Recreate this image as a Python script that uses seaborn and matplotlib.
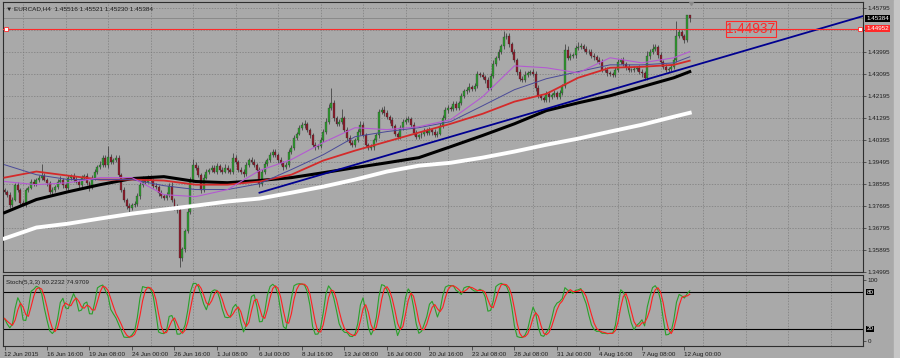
import numpy as np
import pandas as pd
import matplotlib
matplotlib.use("Agg")
import matplotlib.pyplot as plt
import seaborn as sns

# EURCAD H4 closes, 12 Jun 2015 00:00 -> 12 Aug 2015 04:00
closes = [
    1.3827, 1.3815, 1.3774, 1.3795, 1.3856, 1.3836, 1.3782, 1.3774, 1.3836, 1.3844,
    1.3869, 1.3860, 1.3877, 1.3885, 1.3893, 1.3877, 1.3864, 1.3827, 1.3836, 1.3848,
    1.3869, 1.3877, 1.3856, 1.3844, 1.3885, 1.3893, 1.3877, 1.3869, 1.3856, 1.3885,
    1.3893, 1.3864, 1.3844, 1.3885, 1.3910, 1.3930, 1.3938, 1.3967, 1.3938, 1.3971,
    1.3950, 1.3959, 1.3967, 1.3897, 1.3836, 1.3795, 1.3770, 1.3762, 1.3774, 1.3778,
    1.3811, 1.3856, 1.3877, 1.3869, 1.3885, 1.3877, 1.3852, 1.3848, 1.3823, 1.3811,
    1.3803, 1.3815, 1.3852, 1.3795, 1.3766, 1.3754, 1.3557, 1.3590, 1.3664, 1.3745,
    1.3877, 1.3938, 1.3926, 1.3897, 1.3836, 1.3885, 1.3910, 1.3918, 1.3926, 1.3910,
    1.3934, 1.3918, 1.3910, 1.3926, 1.3918, 1.3910, 1.3967, 1.3950, 1.3918, 1.3910,
    1.3901, 1.3938, 1.3959, 1.3950, 1.3938, 1.3918, 1.3860, 1.3910, 1.3942, 1.3959,
    1.3979, 1.3992, 1.3979, 1.3959, 1.3946, 1.3930, 1.3938, 1.3992, 1.4008, 1.4049,
    1.4066, 1.4090, 1.4102, 1.4106, 1.4082, 1.4058, 1.4020, 1.4012, 1.4016, 1.4041,
    1.4074, 1.4115, 1.4172, 1.4192, 1.4131, 1.4106, 1.4115, 1.4131, 1.4082, 1.4049,
    1.4029, 1.4020, 1.4041, 1.4074, 1.4102, 1.4062, 1.4020, 1.4008, 1.4012, 1.4041,
    1.4058, 1.4156, 1.4164, 1.4151, 1.4135, 1.4123, 1.4098, 1.4066, 1.4053, 1.4090,
    1.4115, 1.4123, 1.4127, 1.4102, 1.4070, 1.4053, 1.4058, 1.4066, 1.4078, 1.4070,
    1.4082, 1.4074, 1.4062, 1.4066, 1.4098, 1.4131, 1.4164, 1.4172, 1.4168, 1.4188,
    1.4172, 1.4192, 1.4221, 1.4242, 1.4246, 1.4258, 1.4250, 1.4262, 1.4311, 1.4307,
    1.4299, 1.4287, 1.4254, 1.4303, 1.4353, 1.4377, 1.4402, 1.4426, 1.4463, 1.4467,
    1.4434, 1.4402, 1.4369, 1.4320, 1.4291, 1.4287, 1.4307, 1.4315, 1.4320, 1.4311,
    1.4254, 1.4221, 1.4213, 1.4205, 1.4229, 1.4217, 1.4225, 1.4233, 1.4217, 1.4233,
    1.4262, 1.4410, 1.4377, 1.4385, 1.4389, 1.4418, 1.4422, 1.4426, 1.4414, 1.4402,
    1.4402, 1.4385, 1.4381, 1.4369, 1.4361, 1.4328, 1.4328, 1.4315, 1.4311, 1.4307,
    1.4328, 1.4361, 1.4369, 1.4353, 1.4340, 1.4328, 1.4328, 1.4332, 1.4336, 1.4320,
    1.4315, 1.4295, 1.4385, 1.4402, 1.4414, 1.4422, 1.4389, 1.4361, 1.4340, 1.4328,
    1.4332, 1.4340, 1.4369, 1.4467, 1.4483, 1.4467, 1.4451, 1.45516, 1.45384,
]
first_open = 1.3836

# wick lengths beyond the body, in pips
wick_up = [
    8, 6, 10, 12, 7, 9, 6, 11, 8, 5,
    9, 12, 7, 10, 48, 9, 6, 8, 11, 7,
    10, 14, 6, 8, 12, 7, 9, 13, 5, 10,
    8, 9, 6, 12, 10, 8, 14, 9, 11, 45,
    10, 8, 12, 9, 6, 11, 7, 10, 8, 9,
    12, 10, 15, 8, 11, 9, 7, 12, 6, 10,
    8, 11, 9, 13, 7, 10, 6, 12, 8, 15,
    10, 22, 12, 9, 8, 14, 10, 7, 11, 9,
    13, 8, 10, 15, 9, 7, 18, 11, 8, 10,
    9, 12, 8, 10, 13, 7, 9, 11, 10, 8,
    12, 10, 9, 7, 11, 8, 10, 12, 9, 11,
    8, 10, 13, 14, 9, 7, 10, 12, 8, 9,
    11, 13, 15, 60, 10, 9, 12, 35, 8, 10,
    9, 11, 8, 12, 14, 10, 7, 9, 11, 8,
    10, 12, 9, 15, 10, 8, 11, 9, 7, 12,
    10, 9, 13, 8, 11, 10, 7, 12, 9, 10,
    11, 8, 9, 12, 10, 13, 9, 11, 8, 10,
    12, 9, 11, 8, 10, 14, 9, 12, 10, 8,
    11, 9, 12, 10, 13, 8, 11, 9, 24, 12,
    10, 8, 11, 9, 12, 10, 14, 9, 8, 11,
    10, 12, 9, 8, 11, 10, 9, 12, 8, 10,
    9, 22, 14, 10, 9, 12, 18, 11, 8, 10,
    9, 11, 10, 8, 12, 9, 10, 11, 8, 9,
    10, 12, 9, 11, 8, 10, 9, 12, 8, 10,
    9, 8, 20, 12, 18, 10, 9, 11, 8, 10,
    9, 12, 10, 60, 14, 10, 8, 0, 0,
]
wick_dn = [
    10, 8, 14, 9, 7, 11, 8, 6, 10, 9,
    7, 9, 11, 8, 10, 6, 12, 9, 8, 10,
    9, 7, 12, 8, 10, 9, 11, 7, 13, 8,
    10, 9, 14, 7, 8, 11, 9, 10, 8, 12,
    9, 11, 8, 10, 12, 9, 14, 18, 8, 10,
    9, 12, 8, 10, 7, 11, 9, 8, 12, 10,
    11, 8, 10, 9, 12, 15, 40, 14, 10, 8,
    9, 11, 8, 10, 14, 9, 7, 12, 10, 8,
    9, 11, 10, 8, 12, 9, 10, 8, 11, 9,
    12, 8, 10, 9, 11, 8, 14, 10, 9, 11,
    8, 10, 9, 12, 10, 15, 9, 8, 11, 10,
    9, 8, 10, 12, 9, 11, 10, 13, 9, 8,
    10, 9, 11, 8, 12, 10, 9, 11, 10, 12,
    11, 9, 10, 8, 12, 9, 11, 10, 8, 12,
    9, 10, 8, 11, 9, 12, 10, 9, 11, 8,
    10, 9, 11, 10, 12, 9, 8, 10, 11, 9,
    10, 12, 9, 11, 8, 10, 9, 12, 10, 8,
    9, 11, 10, 8, 12, 9, 10, 11, 9, 10,
    8, 12, 10, 9, 11, 8, 10, 9, 12, 10,
    11, 9, 8, 12, 10, 9, 11, 8, 10, 9,
    12, 10, 9, 11, 8, 20, 9, 10, 11, 9,
    10, 8, 11, 9, 10, 12, 9, 8, 10, 11,
    9, 10, 12, 8, 11, 9, 10, 12, 9, 10,
    8, 11, 9, 10, 12, 9, 8, 11, 10, 9,
    18, 10, 9, 11, 8, 10, 12, 9, 10, 11,
    9, 10, 8, 11, 9, 10, 12, 8, 15,
]

# moving averages read at every 12th bar
ma_bars = [0, 12, 24, 36, 48, 60, 72, 84, 96, 108, 120, 132, 144, 156, 168,
           180, 192, 204, 216, 228, 240, 252, 258]
ma_white = [1.3635, 1.3680, 1.3696, 1.3717, 1.3737, 1.3754, 1.3770, 1.3787, 1.3799,
            1.3823, 1.3848, 1.3877, 1.3910, 1.3934, 1.3946, 1.3967, 1.3992, 1.4020,
            1.4045, 1.4074, 1.4102, 1.4135, 1.4151]
ma_black = [1.3741, 1.3795, 1.3827, 1.3856, 1.3881, 1.3889, 1.3869, 1.3864, 1.3873,
            1.3885, 1.3905, 1.3926, 1.3946, 1.3967, 1.4012, 1.4058, 1.4106, 1.4160,
            1.4192, 1.4221, 1.4258, 1.4295, 1.4320]
ma_red = [1.3885, 1.3910, 1.3893, 1.3877, 1.3877, 1.3873, 1.3856, 1.3856, 1.3869,
          1.3897, 1.3955, 1.3996, 1.4033, 1.4070, 1.4106, 1.4147, 1.4197, 1.4229,
          1.4295, 1.4336, 1.4340, 1.4348, 1.4365]
ma_slate = [1.3938, 1.3897, 1.3877, 1.3877, 1.3877, 1.3852, 1.3836, 1.3836, 1.3860,
            1.3918, 1.3979, 1.4053, 1.4074, 1.4090, 1.4115, 1.4180, 1.4246, 1.4291,
            1.4320, 1.4348, 1.4348, 1.4356, 1.4381]
ma_violet = [1.3869, 1.3856, 1.3864, 1.3885, 1.3885, 1.3815, 1.3807, 1.3836, 1.3914,
             1.3959, 1.4029, 1.4090, 1.4082, 1.4094, 1.4123, 1.4217, 1.4344, 1.4336,
             1.4315, 1.4377, 1.4356, 1.4377, 1.4402]

trend_bars = [96, 258]
trend_prices = [1.3823, 1.4340]
hline_price = 1.44952
bid_price = 1.45384
note_text = "1.44937"

price_ticks = [1.34995, 1.35895, 1.36795, 1.37695, 1.38595, 1.39495, 1.40395,
               1.41295, 1.42195, 1.43095, 1.43995, 1.44895, 1.45795]
# 1.44895 sits under the red line label, so the terminal hides its text
price_tick_labels = ["1.34995", "1.35895", "1.36795", "1.37695", "1.38595", "1.39495",
                     "1.40395", "1.41295", "1.42195", "1.43095", "1.43995", "",
                     "1.45795"]
date_bars = [0, 16, 32, 48, 64, 80, 96, 112, 128, 144, 160, 176, 192, 208, 224, 240, 256]
date_labels = ["12 Jun 2015", "16 Jun 16:00", "19 Jun 08:00", "24 Jun 00:00",
               "26 Jun 16:00", "1 Jul 08:00", "6 Jul 00:00", "8 Jul 16:00",
               "13 Jul 08:00", "16 Jul 00:00", "20 Jul 16:00", "23 Jul 08:00",
               "28 Jul 08:00", "31 Jul 00:00", "4 Aug 16:00", "7 Aug 08:00",
               "12 Aug 00:00"]

BG = "#a9a9a9"
GRID = "#7c7c7c"
FRAME = "#2e2e2e"
TXT = "#1e1e1e"

plt.rcParams["font.family"] = ["Liberation Sans", "DejaVu Sans"]
plt.rcParams["font.size"] = 4.5

df = pd.DataFrame({"close": closes, "up": wick_up, "dn": wick_dn})
df["bar"] = np.arange(len(df))
df["open"] = [first_open] + closes[:-1]
top = df[["open", "close"]].max(axis=1)
bot = df[["open", "close"]].min(axis=1)
df["high"] = top + df["up"] * 0.0001
df["low"] = bot - df["dn"] * 0.0001

# stochastic 5,3,3
hh = df["high"].rolling(5, min_periods=1).max()
ll = df["low"].rolling(5, min_periods=1).min()
num = (df["close"] - ll).rolling(3, min_periods=1).sum()
den = (hh - ll).rolling(3, min_periods=1).sum()
df["k"] = 100 * num / den
df["d"] = df["k"].rolling(3, min_periods=1).mean()

W, H = 900, 358
fig = plt.figure(figsize=(9, 3.58), dpi=100, facecolor=BG)
# lighter window edge on the far right
fig.patches.append(plt.Rectangle((894 / W, 0), 6 / W, 1, transform=fig.transFigure,
                                 color="#c6c6c6", zorder=0))
x0, x1 = 3, 863
ax = fig.add_axes([x0 / W, 1 - 272 / H, (x1 - x0) / W, 270 / H])
ax2 = fig.add_axes([x0 / W, 1 - 346 / H, (x1 - x0) / W, 71 / H], sharex=ax)

px = 2.656
xlim = ((x0 - 4.5) / px, (x1 - 4.5) / px)

for a in (ax, ax2):
    a.set_facecolor(BG)
    for s in a.spines.values():
        s.set_color(FRAME)
        s.set_linewidth(0.8)
    a.yaxis.tick_right()
    a.tick_params(axis="y", length=2, width=0.5, color=FRAME, pad=1.5,
                  labelsize=4.5, labelcolor=TXT)
    for g in np.arange(7, 330, 16):
        a.axvline(g, color=GRID, lw=0.5, ls=(0, (2, 2)), zorder=0)

# price panel
ax.set_ylim(1.34995 - 0.0002, 1.4606)
ax.set_yticks(price_ticks)
ax.set_yticklabels(price_tick_labels)
for p in price_ticks:
    ax.axhline(p, color=GRID, lw=0.5, ls=(0, (2, 2)), zorder=0)

bull = df["close"] >= df["open"]
ax.vlines(df["bar"], df["low"], df["high"], color="#3c3c3c", lw=0.55, zorder=2)
ax.bar(df["bar"], (top - bot).clip(lower=0.00005), bottom=bot, width=0.74,
       color=np.where(bull, "#2f9a2f", "#8e1b2b"), edgecolor="#2a2a2a", lw=0.2,
       zorder=3)

sns.lineplot(x=ma_bars, y=ma_white, ax=ax, color="white", lw=2.8, zorder=4)
sns.lineplot(x=ma_bars, y=ma_black, ax=ax, color="black", lw=2.2, zorder=4)
sns.lineplot(x=ma_bars, y=ma_red, ax=ax, color="#d42a2a", lw=1.3, zorder=4)
sns.lineplot(x=ma_bars, y=ma_slate, ax=ax, color="#4a4a98", lw=0.7, zorder=4)
sns.lineplot(x=ma_bars, y=ma_violet, ax=ax, color="#b45ad2", lw=0.8, zorder=4)

# trend line as a ray to the right
slope = (trend_prices[1] - trend_prices[0]) / (trend_bars[1] - trend_bars[0])
ax.plot([trend_bars[0], xlim[1]],
        [trend_prices[0], trend_prices[0] + slope * (xlim[1] - trend_bars[0])],
        color="#000090", lw=1.3, zorder=5)

ax.axhline(bid_price, color="#8a8a8a", lw=0.7, zorder=1)
ax.axhline(hline_price, color="#ff2a2a", lw=0.8, zorder=5)
ax.plot([0.003, 0.997], [hline_price, hline_price], transform=ax.get_yaxis_transform(),
        ls="none", marker="s", ms=2.2, mfc="white", mec="#ff2a2a", mew=0.6, zorder=6)
ax.text(271.8, hline_price - 0.00005, note_text, color="#ff2a2a", fontsize=9.8,
        ha="left", va="center", zorder=6,
        bbox=dict(facecolor="none", edgecolor="#ff2a2a", lw=0.8, pad=0.5))

ax.text(1.004, bid_price, f"{bid_price:.5f}", transform=ax.get_yaxis_transform(),
        color="white", fontsize=4.5, va="center", ha="left",
        bbox=dict(facecolor="black", edgecolor="none", pad=0.7))
ax.text(1.004, hline_price, f"{hline_price:.5f}", transform=ax.get_yaxis_transform(),
        color="white", fontsize=4.5, va="center", ha="left",
        bbox=dict(facecolor="#ff2a2a", edgecolor="none", pad=0.7))

ax.text(0.004, 0.985, "\u25bc EURCAD,H4  1.45516 1.45521 1.45230 1.45384",
        transform=ax.transAxes, color=TXT, fontsize=4.6, ha="left", va="top")
ax.plot([258.5], [1.4603], marker="v", ms=3, color="#8a8a8a", ls="none", zorder=6)
ax.tick_params(axis="x", bottom=False, labelbottom=False)

# stochastic panel
ax2.set_ylim(-8, 108)
ax2.set_yticks([0, 100])
ax2.set_yticklabels(["0", "100"])
for lvl in (20, 80):
    ax2.axhline(lvl, color="black", lw=0.8, zorder=2)
    ax2.text(1.004, lvl, str(lvl), transform=ax2.get_yaxis_transform(), color="white",
             fontsize=4.5, va="center", ha="left",
             bbox=dict(facecolor="black", edgecolor="none", pad=0.6))
sns.lineplot(data=df, x="bar", y="k", ax=ax2, color="#2aa02a", lw=0.8, zorder=3)
sns.lineplot(data=df, x="bar", y="d", ax=ax2, color="#ff2020", lw=0.8, zorder=4)
ax2.text(0.004, 0.93, "Stoch(5,3,3) 80.2232 74.9709", transform=ax2.transAxes,
         color=TXT, fontsize=4.5, ha="left", va="top")

ax2.set_xlim(*xlim)
ax2.set_xticks(date_bars)
ax2.set_xticklabels(date_labels, ha="left")
ax2.tick_params(axis="x", length=3, width=0.5, color=FRAME, pad=1.5, labelsize=4.5,
                labelcolor=TXT)
ax.set_xlabel("")
ax.set_ylabel("")
ax2.set_xlabel("")
ax2.set_ylabel("")

fig.savefig("out.png", dpi=100, facecolor=BG)
